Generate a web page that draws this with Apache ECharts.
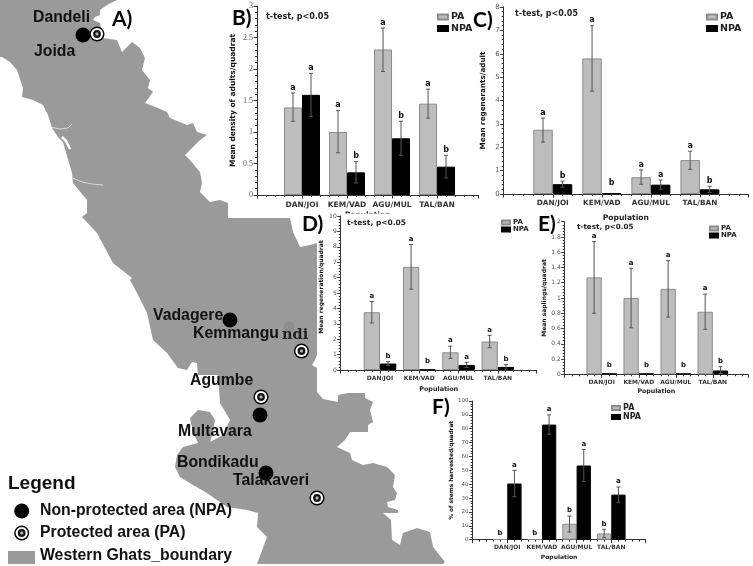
<!DOCTYPE html>
<html><head><meta charset="utf-8">
<style>html,body{margin:0;padding:0;background:#fff}#c{width:753px;height:566px;filter:blur(0.35px)}</style>
<script src="https://cdn.jsdelivr.net/npm/echarts@6/dist/echarts.min.js"></script>
</head><body><div id="c"></div>
<script>
const categories=['DAN/JOI','KEM/VAD','AGU/MUL','TAL/BAN'];
const xPositions=[1,2,3,4];
// Panel B
const bPA=[1.39,1.0,2.31,1.45], bNPA=[1.59,0.36,0.9,0.45];
const bPAlow=[1.17,0.67,1.96,1.22], bPAhigh=[1.62,1.34,2.65,1.68];
const bNPAlow=[1.25,0.19,0.63,0.27], bNPAhigh=[1.93,0.53,1.17,0.63];
const bPAletters=['a','a','a','a'], bNPAletters=['a','b','b','b'];
// Panel C
const cPA=[2.75,5.8,0.72,1.45], cNPA=[0.42,0.03,0.4,0.2];
const cPAlow=[2.22,4.4,0.42,1.05], cPAhigh=[3.25,7.2,1.03,1.83];
const cNPAlow=[0.29,null,0.2,0.07], cNPAhigh=[0.55,null,0.6,0.33];
const cPAletters=['a','a','a','a'], cNPAletters=['b','b','a','b'];
// Panel D
const dPA=[3.75,6.7,1.15,1.85], dNPA=[0.42,0.03,0.33,0.2];
const dPAlow=[3.05,5.25,0.75,1.45], dPAhigh=[4.45,8.15,1.55,2.25];
const dNPAlow=[0.29,null,0.16,0.05], dNPAhigh=[0.55,null,0.5,0.35];
const dPAletters=['a','a','a','a'], dNPAletters=['b','b','a','b'];
// Panel E
const ePA=[1.27,1.0,1.12,0.82], eNPA=[0.01,0.01,0.01,0.05];
const ePAlow=[0.8,0.61,0.75,0.59], ePAhigh=[1.74,1.39,1.49,1.05];
const eNPAlow=[null,null,null,0.01], eNPAhigh=[null,null,null,0.1];
const ePAletters=['a','a','a','a'], eNPAletters=['b','b','b','b'];
// Panel F
const fPA=[0.3,0.3,11.5,4.5], fNPA=[40.5,83,53.5,32.5];
const fPAlow=[null,null,5.5,1.5], fPAhigh=[null,null,17,7.5];
const fNPAlow=[31,76,42,27], fNPAhigh=[50,90,65,38];
const fPAletters=['b','b','b','b'], fNPAletters=['a','a','a','a'];
// Map of the Western Ghats boundary
const mapOutline=[[0,0],[117,0],[107,5],[100,10],[100,15],[95,17],[93,20],[100,23],[103,38],[117,40],[122,52],[132,42],[140,48],[145,58],[142,70],[150,80],[148,88],[153,92],[145,103],[158,108],[167,112],[170,118],[187,125],[193,123],[197,132],[207,135],[200,140],[185,155],[190,160],[200,172],[202,183],[200,192],[210,202],[220,200],[228,203],[228,218],[290,218],[293,232],[300,247],[310,245],[317,243],[317,355],[315,360],[312,365],[317,368],[317,392],[323,399],[338,402],[338,395],[348,393],[365,393],[365,398],[373,402],[370,410],[373,422],[368,425],[368,432],[350,432],[345,440],[337,447],[350,453],[352,460],[363,465],[373,463],[387,467],[395,475],[393,487],[397,493],[395,500],[387,502],[388,507],[398,510],[398,513],[383,513],[391,520],[392,540],[400,545],[403,533],[417,528],[430,532],[433,547],[445,562],[443,564],[257,564],[267,537],[257,527],[258,513],[247,510],[227,507],[207,493],[193,485],[180,477],[175,467],[177,455],[183,447],[198,443],[193,432],[190,418],[198,410],[210,412],[215,420],[212,435],[210,442],[223,435],[230,420],[220,403],[218,375],[198,375],[197,363],[192,362],[187,370],[178,368],[167,353],[153,340],[147,313],[137,293],[130,280],[132,278],[113,263],[97,233],[82,217],[87,213],[87,200],[73,183],[72,173],[63,142],[58,137],[52,128],[48,115],[43,105],[33,100],[22,97],[23,88],[17,70],[10,62],[2,57],[0,57]];
const riverOne=[[50,127],[60,129],[68,128],[72,124]];
const riverTwo=[[73,178],[82,182],[92,184],[103,185]];
const inlet=[[62,137],[66,141],[70,149]];
const npaSites=[[83,35],[230,320],[260,415],[266,473],[21.7,511]];
const paSites=[[97,34],[301.5,351],[261,397],[317,498],[21.7,533]];

function panel(i,g,PA,NPA,PAl,PAh,NPAl,NPAh,PAt,NPAt){
  const grid={left:g.left,top:g.top,width:g.w,height:g.h};
  const font='"DejaVu Sans"';
  const xAxis={gridIndex:i,type:'value',min:0,max:g.xmax,interval:1,
    axisLine:{show:true,onZero:false,lineStyle:{color:'#333',width:1}},
    axisTick:{show:true,length:3.5,lineStyle:{color:'#333'}},
    minorTick:{show:true,splitNumber:5,length:2,lineStyle:{color:'#333'}},
    splitLine:{show:false},minorSplitLine:{show:false},
    axisLabel:{fontFamily:font,fontWeight:'bold',fontSize:g.catSize,color:'#333',margin:g.catMargin,showMaxLabel:false,hideOverlap:false,
      formatter:v=>{const r=Math.round(v);return (Math.abs(v-r)<1e-6&&r>=1&&r<=4)?categories[r-1]:'';}},
    name:'Population',nameLocation:'middle',nameGap:g.popGap,
    nameTextStyle:{fontFamily:font,fontWeight:'bold',fontSize:g.popSize,color:'#222'}};
  const yAxis={gridIndex:i,type:'value',min:0,max:g.ymax,interval:g.yint,
    axisLine:{show:true,lineStyle:{color:'#333',width:1}},
    axisTick:{show:true,length:3.5,lineStyle:{color:'#333'}},
    minorTick:{show:true,splitNumber:g.minor,length:2,lineStyle:{color:'#333'}},
    splitLine:{show:false},minorSplitLine:{show:false},
    axisLabel:{fontFamily:g.tickFont,fontSize:g.tickSize,color:'#555',margin:4,showMinLabel:true,showMaxLabel:true},
    name:g.title,nameLocation:'middle',nameGap:g.titleGap,nameRotate:90,
    nameTextStyle:{fontFamily:font,fontWeight:'bold',fontSize:g.titleSize,color:'#111',padding:[0,0,0,g.titlePad||0]}};
  const bar=(name,vals,color,border)=>({name,type:'bar',xAxisIndex:i,yAxisIndex:i,barWidth:g.barW,barGap:'0%',z:2,
    data:vals.map((v,k)=>[xPositions[k],v]),
    itemStyle:{color,borderColor:border,borderWidth:1},silent:true});
  const err=(vals,lo,hi,letters,sign)=>({type:'custom',xAxisIndex:i,yAxisIndex:i,z:3,silent:true,clip:false,
    encode:{x:0,y:1},
    data:vals.map((v,k)=>[xPositions[k],v,lo[k],hi[k]]),
    renderItem:(p,api)=>{
      const idx=p.dataIndex,x=api.value(0),v=api.value(1),l=lo[idx],h=hi[idx];
      const off=sign*g.barW/2, base=api.coord([x,v]);
      const cx=base[0]+off;
      const children=[];
      const s={stroke:'#555',lineWidth:1};
      let topY=base[1];
      if(l!==null&&h!==null){
        const a=api.coord([x,h])[1],b=api.coord([x,l])[1];
        topY=a;
        children.push({type:'line',shape:{x1:cx,y1:a,x2:cx,y2:b},style:s});
        children.push({type:'line',shape:{x1:cx-2,y1:a,x2:cx+2,y2:a},style:s});
        children.push({type:'line',shape:{x1:cx-2,y1:b,x2:cx+2,y2:b},style:s});
      }
      const gap=(l===null)?g.zeroGap:g.letterGap;
      children.push({type:'text',x:cx,y:topY-gap,style:{text:letters[idx],align:'center',verticalAlign:'middle',
        font:'bold '+g.letterSize+'px "DejaVu Sans"',fill:'#111'}});
      return {type:'group',children};
    }});
  const legend={left:g.legX,top:g.legY,orient:'vertical',itemWidth:g.legW,itemHeight:g.legH,itemGap:g.legGap,icon:'rect',selectedMode:false,padding:0,
    data:['PA','NPA'],textStyle:{fontFamily:font,fontWeight:'bold',fontSize:g.legSize,color:'#222',padding:[0,0,0,-2]}};
  const series=[bar('PA',PA,'#bdbdbd','#8c8c8c'),bar('NPA',NPA,'#000','#000'),err(PA,PAl,PAh,PAt,-1),err(NPA,NPAl,NPAh,NPAt,1)];
  return {grid,xAxis,yAxis,series,legend};
}
const P=[
 panel(0,{left:257,top:6,w:221,h:189,xmax:4.91,ymax:3,yint:0.5,minor:5,barW:18,title:'Mean density of adults/quadrat',titleGap:20,titleSize:7.5,tickFont:'"Liberation Serif"',tickSize:8,catSize:7.5,catMargin:6,popSize:7.5,popGap:16,letterSize:8,letterGap:5.5,zeroGap:9,legX:437,legY:12,legW:10,legH:5,legGap:1.5,legSize:9.5},
   bPA,bNPA,bPAlow,bPAhigh,bNPAlow,bNPAhigh,bPAletters,bNPAletters),
 panel(1,{left:503.7,top:7,w:244.3,h:187,xmax:4.98,ymax:8,yint:1,minor:5,barW:19.5,title:'Mean regenerants/adult',titleGap:17,titleSize:7.2,tickFont:'"DejaVu Sans"',tickSize:7,catSize:7.3,catMargin:6,popSize:7.6,popGap:20,letterSize:8,letterGap:5.5,zeroGap:10,legX:706,legY:12,legW:10,legH:5,legGap:1.5,legSize:9.5},
   cPA,cNPA,cPAlow,cPAhigh,cNPAlow,cNPAhigh,cPAletters,cNPAletters),
 panel(2,{left:340.7,top:216,w:196,h:154,xmax:4.99,ymax:10,yint:1,minor:5,barW:16.3,title:'Mean regeneration/quadrat',titleGap:16,titleSize:6,titlePad:12,tickFont:'"DejaVu Sans"',tickSize:6,catSize:6,catMargin:5,popSize:6.4,popGap:16,letterSize:7,letterGap:5.5,zeroGap:8,legX:501,legY:219,legW:8,legH:4,legGap:0,legSize:7},
   dPA,dNPA,dPAlow,dPAhigh,dNPAlow,dNPAhigh,dPAletters,dNPAletters),
 panel(3,{left:564.7,top:221.7,w:183.3,h:152.6,xmax:4.95,ymax:2,yint:0.2,minor:5,barW:15.3,title:'Mean saplings/quadrat',titleGap:16,titleSize:6,tickFont:'"DejaVu Sans"',tickSize:6,catSize:6,catMargin:5,popSize:6.2,popGap:14,letterSize:7,letterGap:5.5,zeroGap:8,legX:709,legY:225,legW:8,legH:4,legGap:0,legSize:7},
   ePA,eNPA,ePAlow,ePAhigh,eNPAlow,eNPAhigh,ePAletters,eNPAletters),
 panel(4,{left:472.6,top:401,w:173,h:138.7,xmax:4.99,ymax:100,yint:10,minor:5,barW:14.3,title:'% of stems harvested/quadrat',titleGap:18,titleSize:5.8,tickFont:'"DejaVu Sans"',tickSize:5.5,catSize:6,catMargin:5,popSize:6,popGap:15,letterSize:7,letterGap:5.5,zeroGap:6,legX:611,legY:404,legW:8,legH:4,legGap:1,legSize:8},
   fPA,fNPA,fPAlow,fPAhigh,fNPAlow,fNPAhigh,fPAletters,fNPAletters)
];
const M=5;
const mapAxisX={gridIndex:M,type:'value',min:0,max:753,show:false};
const mapAxisY={gridIndex:M,type:'value',min:0,max:566,inverse:true,show:false};
const mapSeries=[
 {type:'custom',xAxisIndex:M,yAxisIndex:M,z:1,silent:true,clip:false,data:mapOutline,encode:{x:0,y:1},
  renderItem:(p,api)=>p.dataIndex!==0?null:({type:'polygon',shape:{points:mapOutline.map(q=>api.coord(q))},style:{fill:'#9a9a9a'}})},
 {type:'line',xAxisIndex:M,yAxisIndex:M,z:1.5,silent:true,symbol:'none',data:riverOne,lineStyle:{color:'#e8e8e8',width:0.8}},
 {type:'line',xAxisIndex:M,yAxisIndex:M,z:1.5,silent:true,symbol:'none',data:riverTwo,lineStyle:{color:'#e8e8e8',width:0.8}},
 {type:'line',xAxisIndex:M,yAxisIndex:M,z:1.5,silent:true,symbol:'none',data:inlet,lineStyle:{color:'#fff',width:2.5}},
 {type:'scatter',xAxisIndex:M,yAxisIndex:M,z:4,silent:true,symbol:'circle',symbolSize:15,data:npaSites,itemStyle:{color:'#000',opacity:1}},
 {type:'custom',xAxisIndex:M,yAxisIndex:M,z:4,silent:true,clip:false,data:paSites,encode:{x:0,y:1},
  renderItem:(p,api)=>{const c=api.coord([api.value(0),api.value(1)]);
   const ring=(r,fill)=>({type:'circle',shape:{cx:c[0],cy:c[1],r},style:{fill}});
   return {type:'group',children:[ring(7.5,'#000'),ring(6.1,'#fff'),ring(3.9,'#111'),ring(1.7,'#aaa')]};}}
];
const sans='"Liberation Sans"';
const labelTexts=[
 ['Dandeli',33,18],['Joida',34,52],['Vadagere',153,316],['Kemmangu',193,334],['Agumbe',190,381],['Multavara',178,432],['Bondikadu',177,463],['Talakaveri',233,481]];
const legendTexts=[['Non-protected area (NPA)',40,511],['Protected area (PA)',40,533],['Western Ghats_boundary',40,556]];
const panelLetters=[['A)',112,19],['B)',232,18],['C)',473,20],['D)',302,224],['E)',538,224],['F)',432,407]];
const tTests=[[266,17,8],[515,14,8],[347,223,7.5],[577,227,7.2]];
const txt=(text,x,y,font,fill,z)=>({type:'text',x,y,z:z||10,silent:true,style:{text,font,fill:fill||'#111',align:'left',verticalAlign:'middle'}});
const graphic=[
 {type:'rect',z:5,silent:true,shape:{x:345,y:213.5,width:50,height:5},style:{fill:'#fff'}},
 {type:'circle',z:3,silent:true,shape:{cx:289,cy:327,r:5.5},style:{fill:'#8e8e8e'}},
 {type:'rect',z:3,silent:true,shape:{x:8,y:551,width:27,height:13},style:{fill:'#9a9a9a'}},
 ...labelTexts.map(t=>txt(t[0],t[1],t[2],'bold 15.8px '+sans)),
 txt('ndi',282,335,'bold 14.5px "DejaVu Serif"','#222'),
 txt('Legend',8,484,'bold 19px '+sans),
 ...legendTexts.map(t=>txt(t[0],t[1],t[2],'bold 15.8px '+sans)),
 ...panelLetters.map(t=>txt(t[0],t[1],t[2],'bold 21px Lato','#000')),
 ...tTests.map(t=>txt('t-test, p<0.05',t[0],t[1],'bold '+t[2]+'px "DejaVu Sans"','#222'))
];
const chart=echarts.init(document.getElementById('c'),null,{renderer:'canvas'});
chart.setOption({
 backgroundColor:'#fff',animation:false,tooltip:{show:false},
 grid:[...P.map(p=>p.grid),{left:0,top:0,width:753,height:566}],
 xAxis:[...P.map(p=>p.xAxis),mapAxisX],
 yAxis:[...P.map(p=>p.yAxis),mapAxisY],
 legend:P.map(p=>p.legend),
 series:[...mapSeries,...P.flatMap(p=>p.series)],
 graphic
});
</script></body></html>
